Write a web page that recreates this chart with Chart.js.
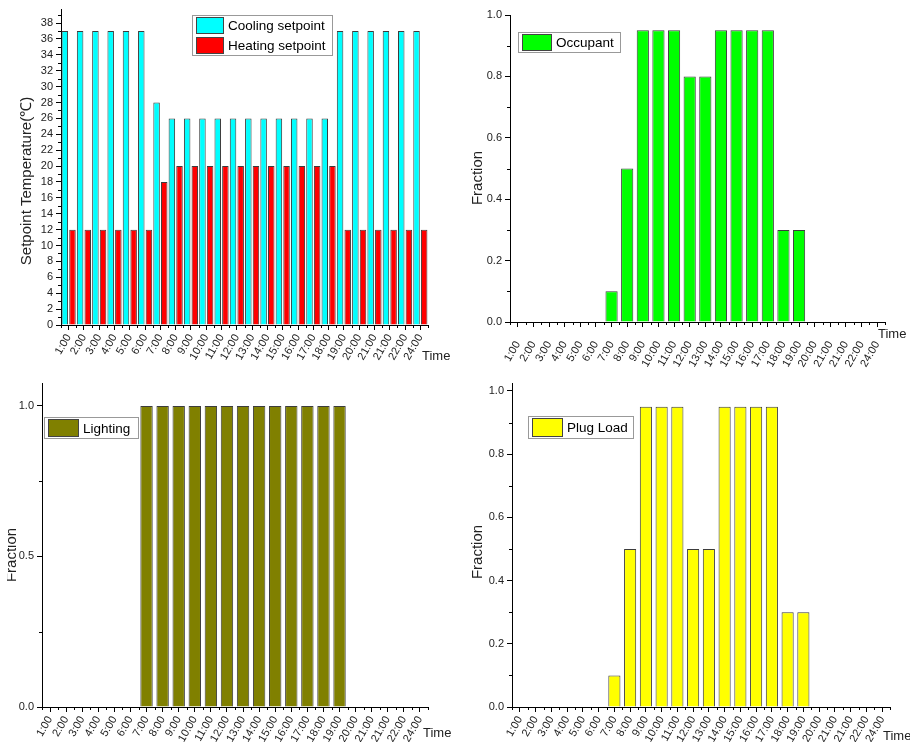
<!DOCTYPE html>
<html>
<head>
<meta charset="utf-8">
<title>Schedules</title>
<script src="https://cdn.jsdelivr.net/npm/chart.js@4.4.1/dist/chart.umd.min.js"></script>
<style>
  body { margin: 0; background: #fff; }
  canvas.panel { position: absolute; }
</style>
</head>
<body>
<canvas id="setpointChart" class="panel" width="455" height="370" style="left:0;top:0"></canvas>
<canvas id="occupantChart" class="panel" width="455" height="370" style="left:455px;top:0"></canvas>
<canvas id="lightingChart" class="panel" width="455" height="372" style="left:0;top:370px"></canvas>
<canvas id="plugChart" class="panel" width="455" height="372" style="left:455px;top:370px"></canvas>
<script>
// hour labels as printed in the source figure (21:00 appears twice, 23:00 is missing)
const hours = ['1:00', '2:00', '3:00', '4:00', '5:00', '6:00', '7:00', '8:00', '9:00', '10:00', '11:00', '12:00',
  '13:00', '14:00', '15:00', '16:00', '17:00', '18:00', '19:00', '20:00', '21:00', '21:00', '22:00', '24:00'];

const coolingSetpoint = [37, 37, 37, 37, 37, 37, 28, 26, 26, 26, 26, 26, 26, 26, 26, 26, 26, 26, 37, 37, 37, 37, 37, 37];
const heatingSetpoint = [12, 12, 12, 12, 12, 12, 18, 20, 20, 20, 20, 20, 20, 20, 20, 20, 20, 20, 12, 12, 12, 12, 12, 12];
const occupant = [0, 0, 0, 0, 0, 0, 0.1, 0.5, 0.95, 0.95, 0.95, 0.8, 0.8, 0.95, 0.95, 0.95, 0.95, 0.3, 0.3, 0, 0, 0, 0, 0];
const lighting = [0, 0, 0, 0, 0, 0, 1, 1, 1, 1, 1, 1, 1, 1, 1, 1, 1, 1, 1, 0, 0, 0, 0, 0];
const plugLoad = [0, 0, 0, 0, 0, 0, 0.1, 0.5, 0.95, 0.95, 0.95, 0.5, 0.5, 0.95, 0.95, 0.95, 0.95, 0.3, 0.3, 0, 0, 0, 0, 0];

const FONT = '"Liberation Sans", Arial, sans-serif';
const INK = '#222';

// Origin-style extras: minor ticks, axis titles and the boxed legend
const decorPlugin = {
  id: 'decor',
  afterDraw(chart, args, opts) {
    const { ctx, chartArea: area, scales: { x, y } } = chart;
    ctx.save();
    ctx.strokeStyle = '#000';
    ctx.lineWidth = 1;
    ctx.beginPath();
    for (let v = opts.minorStep; v < y.max; v += 2 * opts.minorStep) {
      const py = Math.round(y.getPixelForValue(v)) + 0.5;
      ctx.moveTo(area.left - 3, py);
      ctx.lineTo(area.left, py);
    }
    for (let i = 0; i <= hours.length; i++) {
      const px = Math.round(x.getPixelForValue(i - 0.5)) + 0.5;
      ctx.moveTo(px, area.bottom);
      ctx.lineTo(px, area.bottom + 3);
    }
    ctx.stroke();

    ctx.fillStyle = INK;
    ctx.font = `13px ${FONT}`;
    ctx.textAlign = 'left';
    ctx.textBaseline = 'alphabetic';
    ctx.fillText('Time', opts.time.x, opts.time.y);

    ctx.save();
    if (opts.yTitle.clip) {
      ctx.beginPath();
      ctx.rect(opts.yTitle.clip, 0, chart.width, chart.height);
      ctx.clip();
    }
    ctx.translate(opts.yTitle.x, opts.yTitle.y);
    ctx.rotate(-Math.PI / 2);
    ctx.font = `15px ${FONT}`;
    ctx.textAlign = 'center';
    ctx.textBaseline = 'middle';
    ctx.fillText(opts.yTitle.text, 0, 0);
    ctx.restore();

    const lg = opts.legend;
    const rowH = lg.h / chart.data.datasets.length;
    ctx.fillStyle = '#fff';
    ctx.fillRect(lg.x, lg.y, lg.w, lg.h);
    ctx.strokeStyle = '#999';
    ctx.strokeRect(lg.x + 0.5, lg.y + 0.5, lg.w, lg.h);
    ctx.font = `13.5px ${FONT}`;
    ctx.textAlign = 'left';
    ctx.textBaseline = 'middle';
    chart.data.datasets.forEach((ds, i) => {
      const top = lg.y + i * rowH + 2;
      ctx.fillStyle = ds.backgroundColor;
      ctx.fillRect(lg.x + 4, top, lg.sw, rowH - 3);
      ctx.strokeStyle = '#444';
      ctx.strokeRect(lg.x + 4.5, top + 0.5, lg.sw - 1, rowH - 4);
      ctx.fillStyle = '#000';
      ctx.fillText(ds.label, lg.x + lg.sw + 8, top + (rowH - 3) / 2 + 1);
    });
    ctx.restore();
  }
};

function makeChart(id, cfg) {
  const canvas = document.getElementById(id);
  const step = cfg.yStep;
  return new Chart(canvas, {
    type: 'bar',
    data: {
      labels: hours,
      datasets: cfg.series.map(s => ({
        label: s.label,
        data: s.data,
        backgroundColor: s.color,
        borderColor: '#3c3c3c',
        borderWidth: 1,
        barPercentage: cfg.barPct,
        categoryPercentage: 1
      }))
    },
    options: {
      responsive: false,
      animation: false,
      devicePixelRatio: 1,
      layout: { padding: { left: 0, top: cfg.area.top, right: canvas.width - cfg.area.right, bottom: 0 } },
      plugins: {
        legend: { display: false },
        tooltip: { enabled: false },
        decor: { minorStep: step / 2, time: cfg.time, yTitle: cfg.yTitle, legend: cfg.legend }
      },
      scales: {
        x: {
          grid: { drawOnChartArea: false, offset: false, tickLength: 5, color: '#000' },
          border: { color: '#000', width: 1 },
          ticks: { autoSkip: false, minRotation: 60, maxRotation: 60, padding: cfg.xPad, color: INK, font: { family: FONT, size: 11 } },
          afterFit: s => { s.height = canvas.height - cfg.area.bottom; }
        },
        y: {
          min: 0,
          max: cfg.yMax,
          grid: { drawOnChartArea: false, tickLength: 5, color: '#000' },
          border: { color: '#000', width: 1 },
          ticks: {
            stepSize: step,
            includeBounds: false,
            padding: 3,
            color: INK,
            font: { family: FONT, size: 11 },
            callback: v => cfg.yDigits ? v.toFixed(cfg.yDigits) : v
          },
          afterBuildTicks: s => {
            s.ticks = s.ticks.filter(t => t.value <= cfg.yMax && Math.abs(t.value / step - Math.round(t.value / step)) < 1e-6);
          },
          afterFit: s => { s.width = cfg.area.left; }
        }
      }
    },
    plugins: [decorPlugin]
  });
}

makeChart('setpointChart', {
  series: [
    { label: 'Cooling setpoint', data: coolingSetpoint, color: '#00ffff' },
    { label: 'Heating setpoint', data: heatingSetpoint, color: '#ff0000' }
  ],
  area: { left: 61, right: 428, top: 7, bottom: 325 },
  yMax: 39.7, yStep: 2, yDigits: 0, barPct: 0.85, xPad: 2,
  time: { x: 422, y: 360 },
  yTitle: { text: 'Setpoint Temperature(℃)', x: 27, y: 181 },
  legend: { x: 192, y: 15, w: 140, h: 40, sw: 28 }
});

makeChart('occupantChart', {
  series: [{ label: 'Occupant', data: occupant, color: '#00ff00' }],
  area: { left: 55, right: 430, top: 15, bottom: 322 },
  yMax: 1, yStep: 0.2, yDigits: 1, barPct: 0.78, xPad: 12,
  time: { x: 423, y: 338 },
  yTitle: { text: 'Fraction', x: 23, y: 178 },
  legend: { x: 63, y: 32, w: 102, h: 20, sw: 30 }
});

makeChart('lightingChart', {
  series: [{ label: 'Lighting', data: lighting, color: '#808000' }],
  area: { left: 42, right: 428, top: 13, bottom: 337 },
  yMax: 1.076, yStep: 0.5, yDigits: 1, barPct: 0.77, xPad: 2,
  time: { x: 423, y: 367 },
  yTitle: { text: 'Fraction', x: 12, y: 185, clip: 7 },
  legend: { x: 44, y: 47, w: 94, h: 21, sw: 31 }
});

makeChart('plugChart', {
  series: [{ label: 'Plug Load', data: plugLoad, color: '#ffff00' }],
  area: { left: 57, right: 435, top: 13, bottom: 337 },
  yMax: 1.025, yStep: 0.2, yDigits: 1, barPct: 0.77, xPad: 2,
  time: { x: 428, y: 370 },
  yTitle: { text: 'Fraction', x: 23, y: 182 },
  legend: { x: 73, y: 46, w: 105, h: 22, sw: 31 }
});
</script>
</body>
</html>
